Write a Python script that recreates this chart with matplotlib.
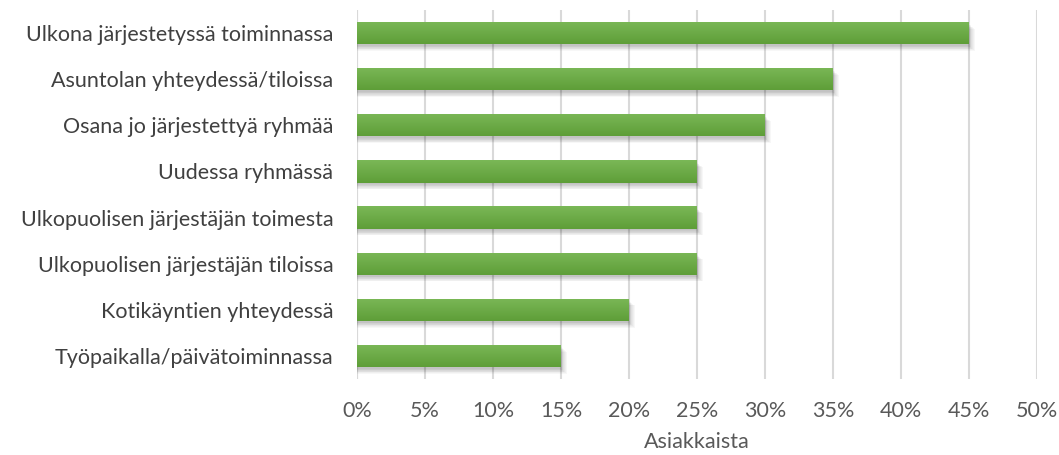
import numpy as np
import matplotlib.pyplot as plt
from matplotlib.ticker import FuncFormatter

# vastaukset (osuus asiakkaista, %)
kategoriat = [
    "Ulkona järjestetyssä toiminnassa",
    "Asuntolan yhteydessä/tiloissa",
    "Osana jo järjestettyä ryhmää",
    "Uudessa ryhmässä",
    "Ulkopuolisen järjestäjän toimesta",
    "Ulkopuolisen järjestäjän tiloissa",
    "Kotikäyntien yhteydessä",
    "Työpaikalla/päivätoiminnassa",
]
osuudet = [45, 35, 30, 25, 25, 25, 20, 15]
x_tikit = [0, 5, 10, 15, 20, 25, 30, 35, 40, 45, 50]

plt.rcParams['font.family'] = ['Lato', 'DejaVu Sans']

fig = plt.figure(figsize=(10.59, 4.55), dpi=100)
ax = fig.add_axes([357 / 1059, 1 - 379 / 455, 680 / 1059, 369 / 455])

y = np.arange(len(kategoriat))
korkeus = 0.48

# pystysuuntainen liukuväri palkkeihin
liuku = np.linspace(0, 1, 64).reshape(-1, 1)
vihrea = np.array([[0.48, 0.72, 0.34], [0.37, 0.62, 0.22]])
varit = vihrea[0] + liuku[..., None] * (vihrea[1] - vihrea[0])

for i, arvo in enumerate(osuudet):
    # pehmeä varjo palkin alle
    for k in range(8):
        ax.barh(y[i] + 0.04 + k * 0.015, arvo + 0.06 * k, height=korkeus,
                color='black', alpha=0.03, zorder=2, linewidth=0)
    palkki = ax.barh(y[i], arvo, height=korkeus, color='none', zorder=3)[0]
    kuva = ax.imshow(varit, extent=[0, arvo, y[i] + korkeus / 2, y[i] - korkeus / 2],
                     aspect='auto', zorder=3, interpolation='bilinear')
    kuva.set_clip_path(palkki)

ax.set_xlim(0, 50)
ax.set_ylim(len(kategoriat) - 0.5, -0.5)
ax.set_xticks(x_tikit)
ax.xaxis.set_major_formatter(FuncFormatter(lambda v, p: f"{v:.0f}%"))
ax.set_yticks(y)
ax.set_yticklabels(kategoriat, fontsize=15.5, color='#404040')
ax.tick_params(axis='x', labelsize=15.5, labelcolor='#595959', length=0, pad=16)
ax.tick_params(axis='y', length=0, pad=17)
ax.grid(axis='x', color='#d9d9d9', linewidth=1.5, zorder=0)
ax.set_axisbelow(True)
for s in ax.spines.values():
    s.set_visible(False)
ax.axvline(0, color='#d9d9d9', linewidth=1.5, zorder=1)
ax.set_xlabel("Asiakkaista", fontsize=15.5, color='#595959', labelpad=8)

fig.savefig("out.png", dpi=100)
